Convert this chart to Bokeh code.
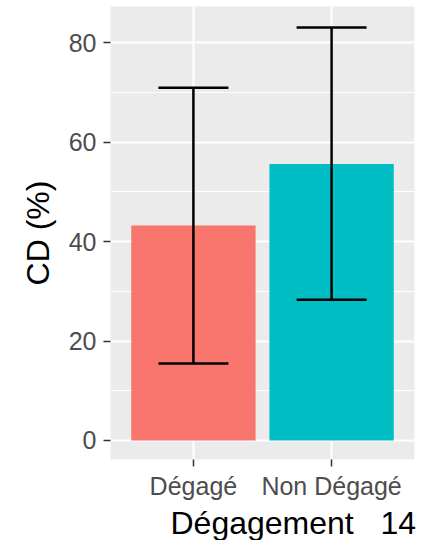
from bokeh.plotting import figure
from bokeh.models import (ColumnDataSource, FactorRange, Range1d, SingleIntervalTicker,
                          Whisker, TeeHead, Title)
from bokeh.embed import file_html
from bokeh.resources import INLINE

categories = ["Dégagé", "Non Dégagé"]
cd_mean = [43.2, 55.6]
cd_lower = [15.5, 28.3]
cd_upper = [70.9, 83.0]
bar_colors = ["#F8766D", "#00BFC4"]

x_title = "Dégagement"
y_title = "CD (%)"
page_number = "14"

FONT = "Liberation Sans"

src = ColumnDataSource(dict(cat=categories, mean=cd_mean, lo=cd_lower, hi=cd_upper, color=bar_colors))

p = figure(width=431, height=540, output_backend="svg", toolbar_location=None,
           x_range=FactorRange(factors=categories, range_padding=0.1, range_padding_units="absolute"),
           y_range=Range1d(-3.82, 87.24),
           min_border_left=110, min_border_right=17, min_border_top=6, min_border_bottom=79,
           background_fill_color="#EBEBEB", border_fill_color="white", outline_line_color=None)

p.vbar(x="cat", top="mean", bottom=0, width=0.9, fill_color="color", line_color=None, source=src)

w = Whisker(base="cat", upper="hi", lower="lo", source=src, line_color="black", line_width=2.5,
            level="overlay",
            upper_head=TeeHead(size=70, line_color="black", line_width=2.5),
            lower_head=TeeHead(size=70, line_color="black", line_width=2.5))
p.add_layout(w)

p.yaxis.ticker = SingleIntervalTicker(interval=20, num_minor_ticks=2)
for ax in (p.xaxis[0], p.yaxis[0]):
    ax.axis_line_color = None
    ax.major_tick_line_color = "#333333"
    ax.major_tick_line_width = 1.5
    ax.major_tick_out = 7
    ax.major_tick_in = 0
    ax.minor_tick_line_color = None
    ax.major_label_text_font = FONT
    ax.major_label_text_font_size = "25px"
    ax.major_label_text_color = "#4D4D4D"

p.yaxis.major_label_standoff = 7
p.xaxis.major_label_standoff = 5

p.yaxis.axis_label = y_title
p.yaxis.axis_label_text_font = FONT
p.yaxis.axis_label_text_font_size = "32px"
p.yaxis.axis_label_text_font_style = "normal"
p.yaxis.axis_label_text_color = "black"
p.yaxis.axis_label_standoff = 10

p.xgrid.grid_line_color = "white"
p.xgrid.grid_line_width = 2
p.ygrid.grid_line_color = "white"
p.ygrid.grid_line_width = 2
p.ygrid.minor_grid_line_color = "white"
p.ygrid.minor_grid_line_width = 1

# x title with the page number at its right, in the panel below the x axis
nbsp = "\u00a0"
p.add_layout(Title(text=x_title + nbsp * 3 + page_number, align="left", offset=60, standoff=0,
                   text_font=FONT, text_font_size="32px", text_font_style="normal",
                   text_color="black"), "below")

open("out.html", "w").write(file_html(p, INLINE))
